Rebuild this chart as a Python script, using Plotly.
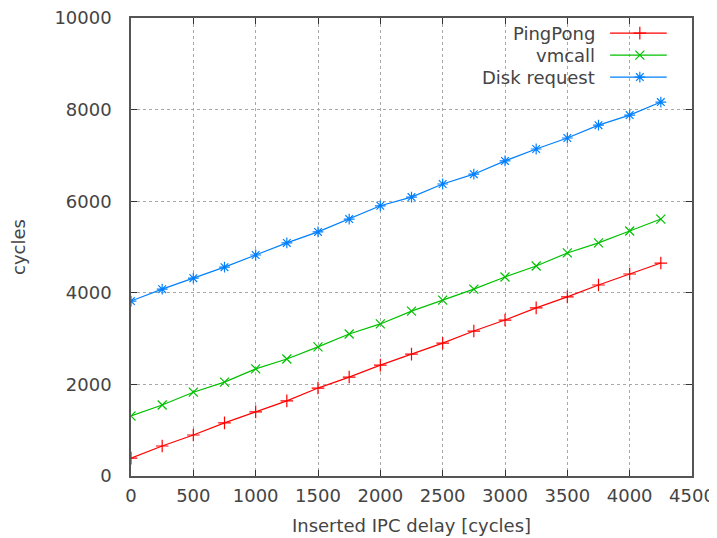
import plotly.graph_objects as go

delay = [0, 250, 500, 750, 1000, 1250, 1500, 1750, 2000, 2250, 2500, 2750,
         3000, 3250, 3500, 3750, 4000, 4250]
pingpong = [390, 655, 895, 1160, 1400, 1640, 1920, 2160, 2420, 2660, 2900, 3165,
            3405, 3670, 3910, 4170, 4410, 4650]
vmcall = [1310, 1550, 1830, 2050, 2340, 2555, 2820, 3100, 3320, 3600, 3840, 4080,
          4345, 4585, 4870, 5090, 5350, 5610]
disk = [3820, 4080, 4320, 4560, 4825, 5090, 5330, 5610, 5900, 6090, 6375, 6590,
        6880, 7140, 7380, 7660, 7880, 8165]

series_names = ["PingPong", "vmcall", "Disk request"]
series_values = [pingpong, vmcall, disk]
colors = ["#ff0000", "#00c000", "#0080ff"]
symbols = ["cross-thin-open", "x-thin-open", "asterisk-open"]

x_ticks = [0, 500, 1000, 1500, 2000, 2500, 3000, 3500, 4000, 4500]
y_ticks = [0, 2000, 4000, 6000, 8000, 10000]

FONT = "DejaVu Sans"
TXT = "#444444"
FS = 18

fig = go.Figure()
for name, vals, col, sym in zip(series_names, series_values, colors, symbols):
    fig.add_trace(go.Scatter(
        x=delay, y=vals, mode="lines+markers", name=name,
        line=dict(color=col, width=1.2),
        marker=dict(symbol=sym, size=9, color=col, line=dict(color=col, width=1.2)),
        showlegend=False,
    ))

# manual gnuplot-style legend (text right, sample on the right)
leg_y = [0.967, 0.919, 0.871]
for i, (name, col, sym) in enumerate(zip(series_names, colors, symbols)):
    fig.add_trace(go.Scatter(
        x=[0.854, 0.955], y=[leg_y[i], leg_y[i]], xaxis="x2", yaxis="y2",
        mode="lines", line=dict(color=col, width=1.2), showlegend=False,
        hoverinfo="skip"))
    fig.add_trace(go.Scatter(
        x=[0.907], y=[leg_y[i]], xaxis="x2", yaxis="y2",
        mode="markers", marker=dict(symbol=sym, size=9, color=col,
                                    line=dict(color=col, width=1.2)),
        showlegend=False, hoverinfo="skip"))
    fig.add_annotation(x=0.831, y=leg_y[i], xref="x2", yref="y2", text=name,
                       showarrow=False, xanchor="right", yanchor="middle",
                       font=dict(family=FONT, size=FS, color=TXT))

axis_common = dict(
    showline=True, linecolor="#555555", linewidth=1.5, mirror="allticks",
    ticks="inside", ticklen=6, tickcolor="#333333", tickwidth=1,
    showgrid=True, gridcolor="#a8a8a8", griddash="dot", gridwidth=1,
    zeroline=False, tickfont=dict(family=FONT, size=FS, color=TXT),
    automargin=False, ticklabeloverflow="allow",
)

fig.update_layout(
    width=709, height=530,
    margin=dict(l=123, r=25, t=10, b=62),
    paper_bgcolor="white", plot_bgcolor="white",
    xaxis=dict(range=[0, 4500], tickvals=x_ticks, ticktext=[str(v) for v in x_ticks],
               ticklabelstandoff=3,
               title=dict(text="Inserted IPC delay [cycles]", standoff=14,
                          font=dict(family=FONT, size=FS, color=TXT)),
               **axis_common),
    yaxis=dict(range=[0, 10000], tickvals=y_ticks, ticktext=[str(v) for v in y_ticks],
               ticklabelstandoff=14,
               title=dict(text="cycles", standoff=38,
                          font=dict(family=FONT, size=FS, color=TXT)),
               **axis_common),
    xaxis2=dict(range=[0, 1], overlaying="x", visible=False, fixedrange=True),
    yaxis2=dict(range=[0, 1], overlaying="y", visible=False, fixedrange=True),
    showlegend=False,
)

fig.write_html("out.html")
